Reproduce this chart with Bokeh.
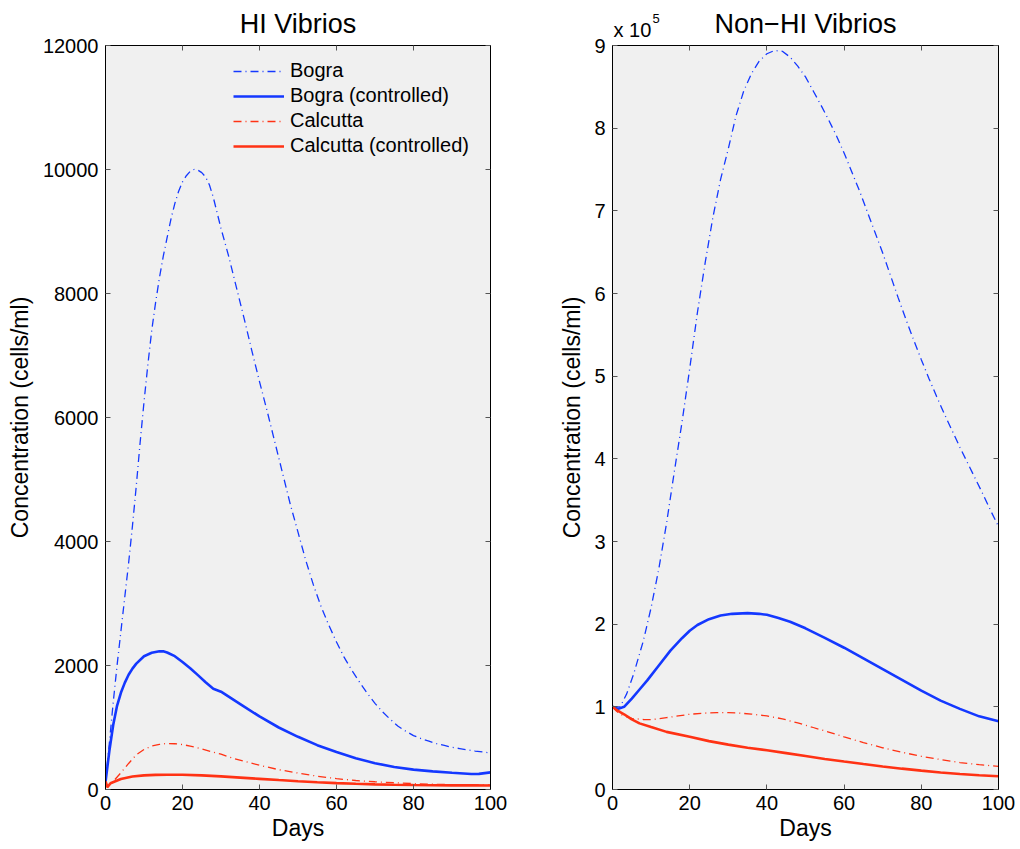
from bokeh.plotting import figure
from bokeh.layouts import row
from bokeh.models import (LinearAxis, FixedTicker, Label, Legend, LegendItem, Range1d,
                          CustomJSTickFormatter)
from bokeh.embed import file_html
from bokeh.resources import INLINE

# ---------------- data ----------------
# HI Vibrios (cells/ml)
hi_bogra_days = [0, 1, 2, 3, 4, 5, 6, 7, 8, 9, 10, 11, 12, 13, 14, 15, 16, 17, 18, 19, 20, 21, 22, 23,
                 24, 25, 26, 27, 28, 29, 30, 32, 34, 36, 38, 40, 42, 44, 46, 48, 50, 52, 54, 56, 58,
                 60, 62, 64, 66, 68, 70, 72, 74, 76, 78, 80, 82, 84, 86, 88, 90, 92, 94, 96, 98, 100]
hi_bogra = [100, 750, 1400, 2000, 2550, 3100, 3650, 4250, 4900, 5600, 6250, 6850, 7400, 7850, 8250,
            8600, 8900, 9200, 9450, 9650, 9800, 9900, 9970, 10000, 9990, 9950, 9880, 9750, 9550, 9300,
            9050, 8600, 8100, 7600, 7080, 6580, 6100, 5600, 5100, 4600, 4150, 3700, 3300, 2950, 2650,
            2380, 2130, 1920, 1730, 1550, 1390, 1250, 1130, 1020, 940, 870, 820, 780, 740, 710, 680,
            660, 640, 620, 605, 590]

hi_bogra_ctrl_days = [0, 1, 2, 3, 4, 5, 6, 7, 8, 10, 12, 14, 15, 16, 18, 20, 22, 24, 26, 28, 30, 35,
                      40, 45, 50, 55, 60, 65, 70, 75, 80, 85, 90, 95, 97, 100]
hi_bogra_ctrl = [120, 620, 1040, 1350, 1560, 1720, 1850, 1950, 2030, 2150, 2205, 2230, 2228, 2210,
                 2150, 2055, 1955, 1845, 1730, 1625, 1578, 1378, 1178, 1000, 850, 715, 605, 505, 425,
                 362, 320, 293, 270, 250, 252, 276]

hi_calc_days = [0, 0.5, 2, 4, 6, 8, 10, 12, 14, 16, 18, 20, 22, 25, 28, 30, 33, 36, 40, 45, 50, 55,
                60, 65, 70, 75, 80, 85, 90, 95, 100]
hi_calc = [120, 30, 130, 270, 420, 560, 645, 700, 728, 742, 738, 725, 700, 655, 600, 570, 505, 455,
           390, 320, 265, 215, 175, 145, 125, 110, 95, 85, 78, 75, 72]

hi_calc_ctrl_days = [0, 0.5, 1.3, 4, 7, 10, 13, 16, 20, 25, 30, 35, 40, 45, 50, 55, 60, 65, 70, 75,
                     80, 85, 90, 95, 100]
hi_calc_ctrl = [130, 40, 100, 170, 210, 228, 236, 239, 238, 228, 212, 192, 172, 152, 133, 116, 103,
                92, 83, 77, 72, 69, 67, 66, 65]

# Non-HI Vibrios (units of 10^5 cells/ml)
nhi_bogra_days = [0, 2, 3.7, 5.5, 8, 10, 12, 14, 16, 18, 20, 22, 24, 26, 28, 30, 32, 34, 36, 38, 40,
                  42, 44, 46, 48, 50, 52, 54, 56, 58, 60, 62, 64, 66, 68, 70, 72, 74, 76, 78, 80, 82,
                  84, 86, 88, 90, 92, 94, 96, 98, 100]
nhi_bogra = [1.0, 1.0, 1.16, 1.40, 1.80, 2.20, 2.67, 3.22, 3.84, 4.44, 5.09, 5.77, 6.37, 6.92, 7.38,
             7.75, 8.15, 8.45, 8.66, 8.81, 8.90, 8.94, 8.93, 8.86, 8.75, 8.62, 8.45, 8.28, 8.10, 7.91,
             7.70, 7.47, 7.24, 6.99, 6.74, 6.49, 6.22, 5.95, 5.69, 5.44, 5.20, 4.97, 4.75, 4.54, 4.34,
             4.14, 3.95, 3.76, 3.57, 3.37, 3.18]

nhi_bogra_ctrl_days = [0, 1.5, 3, 5, 7, 9, 12, 15, 18, 20, 22, 25, 28, 31, 35, 38, 40, 43, 46, 50,
                       55, 60, 65, 70, 75, 80, 85, 90, 95, 100]
nhi_bogra_ctrl = [1.0, 0.975, 1.0, 1.10, 1.21, 1.32, 1.50, 1.68, 1.83, 1.92, 1.99, 2.06, 2.105, 2.125,
                  2.133, 2.125, 2.113, 2.075, 2.03, 1.95, 1.835, 1.715, 1.585, 1.455, 1.325, 1.195,
                  1.075, 0.975, 0.885, 0.825]

nhi_calc_days = [0, 1, 2, 3, 5, 8, 10, 12, 14, 17, 20, 24, 27, 30, 33, 36, 40, 44, 48, 52, 56, 60,
                 65, 70, 75, 80, 85, 90, 95, 100]
nhi_calc = [1.0, 0.95, 0.91, 0.89, 0.86, 0.847, 0.845, 0.855, 0.869, 0.89, 0.91, 0.925, 0.93, 0.93,
            0.924, 0.912, 0.89, 0.855, 0.805, 0.75, 0.695, 0.637, 0.568, 0.505, 0.45, 0.402, 0.362,
            0.326, 0.30, 0.28]

nhi_calc_ctrl_days = [0, 1, 2, 3, 5, 7, 10, 14, 20, 25, 30, 35, 40, 45, 50, 55, 60, 65, 70, 75, 80,
                      85, 90, 95, 100]
nhi_calc_ctrl = [1.0, 0.965, 0.935, 0.91, 0.848, 0.80, 0.755, 0.697, 0.637, 0.585, 0.543, 0.506,
                 0.474, 0.44, 0.405, 0.37, 0.338, 0.308, 0.279, 0.252, 0.228, 0.206, 0.187, 0.172,
                 0.161]

x_ticks = [0, 20, 40, 60, 80, 100]
hi_y_ticks = [0, 2000, 4000, 6000, 8000, 10000, 12000]
nhi_y_ticks = [0, 1, 2, 3, 4, 5, 6, 7, 8, 9]
legend_labels = ["Bogra", "Bogra (controlled)", "Calcutta", "Calcutta (controlled)"]

# ---------------- style ----------------
FONT = "Liberation Sans"
BLUE = "#1438ff"
RED = "#ff3214"
DASHDOT = "8 4 1 4"


def make_fig(title, ymax, yticks, left, right):
    p = figure(output_backend="svg", toolbar_location=None,
               frame_width=1020 // 2 - left - right, frame_height=744,
               min_border_left=left, min_border_right=right,
               min_border_top=45, min_border_bottom=59,
               x_range=Range1d(0, 100), y_range=Range1d(0, ymax),
               title=title)
    p.background_fill_color = "#f0f0f0"
    p.border_fill_color = "white"
    p.outline_line_color = "black"
    p.grid.visible = False
    blank = CustomJSTickFormatter(code="return ''")
    p.add_layout(LinearAxis(formatter=blank), "right")
    p.add_layout(LinearAxis(formatter=blank), "above")
    for ax in p.xaxis:
        ax.ticker = FixedTicker(ticks=x_ticks)
    for ax in p.yaxis:
        ax.ticker = FixedTicker(ticks=yticks)
    for ax in p.axis:
        ax.major_tick_in = 5
        ax.major_tick_out = 0
        ax.minor_tick_in = 0
        ax.minor_tick_out = 0
        ax.major_tick_line_color = "#555555"
        ax.axis_line_color = "black"
        ax.major_label_text_font = FONT
        ax.major_label_text_font_size = "20px"
        ax.major_label_text_color = "black"
        ax.axis_label_text_font = FONT
        ax.axis_label_text_font_size = "23px"
        ax.axis_label_text_font_style = "normal"
        ax.axis_label_text_color = "black"
        ax.major_label_standoff = 7
    for ax in (p.above[-1], p.right[-1]):
        ax.major_label_text_font_size = "1px"
        ax.major_label_standoff = 0
    p.below[0].axis_label = "Days"
    p.below[0].major_label_standoff = 6
    p.below[0].axis_label_standoff = 2
    p.left[0].axis_label = "Concentration (cells/ml)"
    p.left[0].axis_label_standoff = 7
    p.title.text_font = FONT
    p.title.text_font_size = "27px"
    p.title.text_font_style = "normal"
    p.title.align = "center"
    p.title.text_color = "black"
    p.title.standoff = 13
    return p


p1 = make_fig("HI Vibrios", 12000, hi_y_ticks, 105, 20)
r1 = p1.line(hi_bogra_days, hi_bogra, line_color=BLUE, line_width=1.3, line_dash=DASHDOT)
r2 = p1.line(hi_bogra_ctrl_days, hi_bogra_ctrl, line_color=BLUE, line_width=2.6)
r3 = p1.line(hi_calc_days, hi_calc, line_color=RED, line_width=1.3, line_dash=DASHDOT)
r4 = p1.line(hi_calc_ctrl_days, hi_calc_ctrl, line_color=RED, line_width=2.6)

legend = Legend(items=[LegendItem(label=l, renderers=[r]) for l, r in zip(legend_labels, [r1, r2, r3, r4])],
                location=(128, 632), orientation="vertical")
legend.background_fill_alpha = 0
legend.border_line_color = None
legend.label_text_font = FONT
legend.label_text_font_size = "20px"
legend.label_text_color = "black"
legend.glyph_width = 51
legend.glyph_height = 20
legend.label_height = 20
legend.label_standoff = 6
legend.spacing = 2
legend.padding = 5
legend.margin = 0
p1.add_layout(legend, "center")

p2 = make_fig("Non\u2212HI Vibrios", 9, nhi_y_ticks, 102, 22)
p2.left[0].axis_label_standoff = 6
p2.line(nhi_bogra_days, nhi_bogra, line_color=BLUE, line_width=1.3, line_dash=DASHDOT)
p2.line(nhi_bogra_ctrl_days, nhi_bogra_ctrl, line_color=BLUE, line_width=2.6)
p2.line(nhi_calc_days, nhi_calc, line_color=RED, line_width=1.3, line_dash=DASHDOT)
p2.line(nhi_calc_ctrl_days, nhi_calc_ctrl, line_color=RED, line_width=2.6)

# scale multiplier above the y axis (in the left side panel so it is not clipped to the frame)
p2.add_layout(Label(x=0, y=9, x_offset=1, y_offset=16, text="x 10", text_font=FONT,
                    text_font_size="20px", text_baseline="alphabetic", text_color="black"), "left")
p2.add_layout(Label(x=0, y=9, x_offset=40, y_offset=27, text="5", text_font=FONT,
                    text_font_size="13px", text_baseline="alphabetic", text_color="black"), "left")

layout = row(p1, p2)
open("out.html", "w").write(file_html(layout, INLINE))
